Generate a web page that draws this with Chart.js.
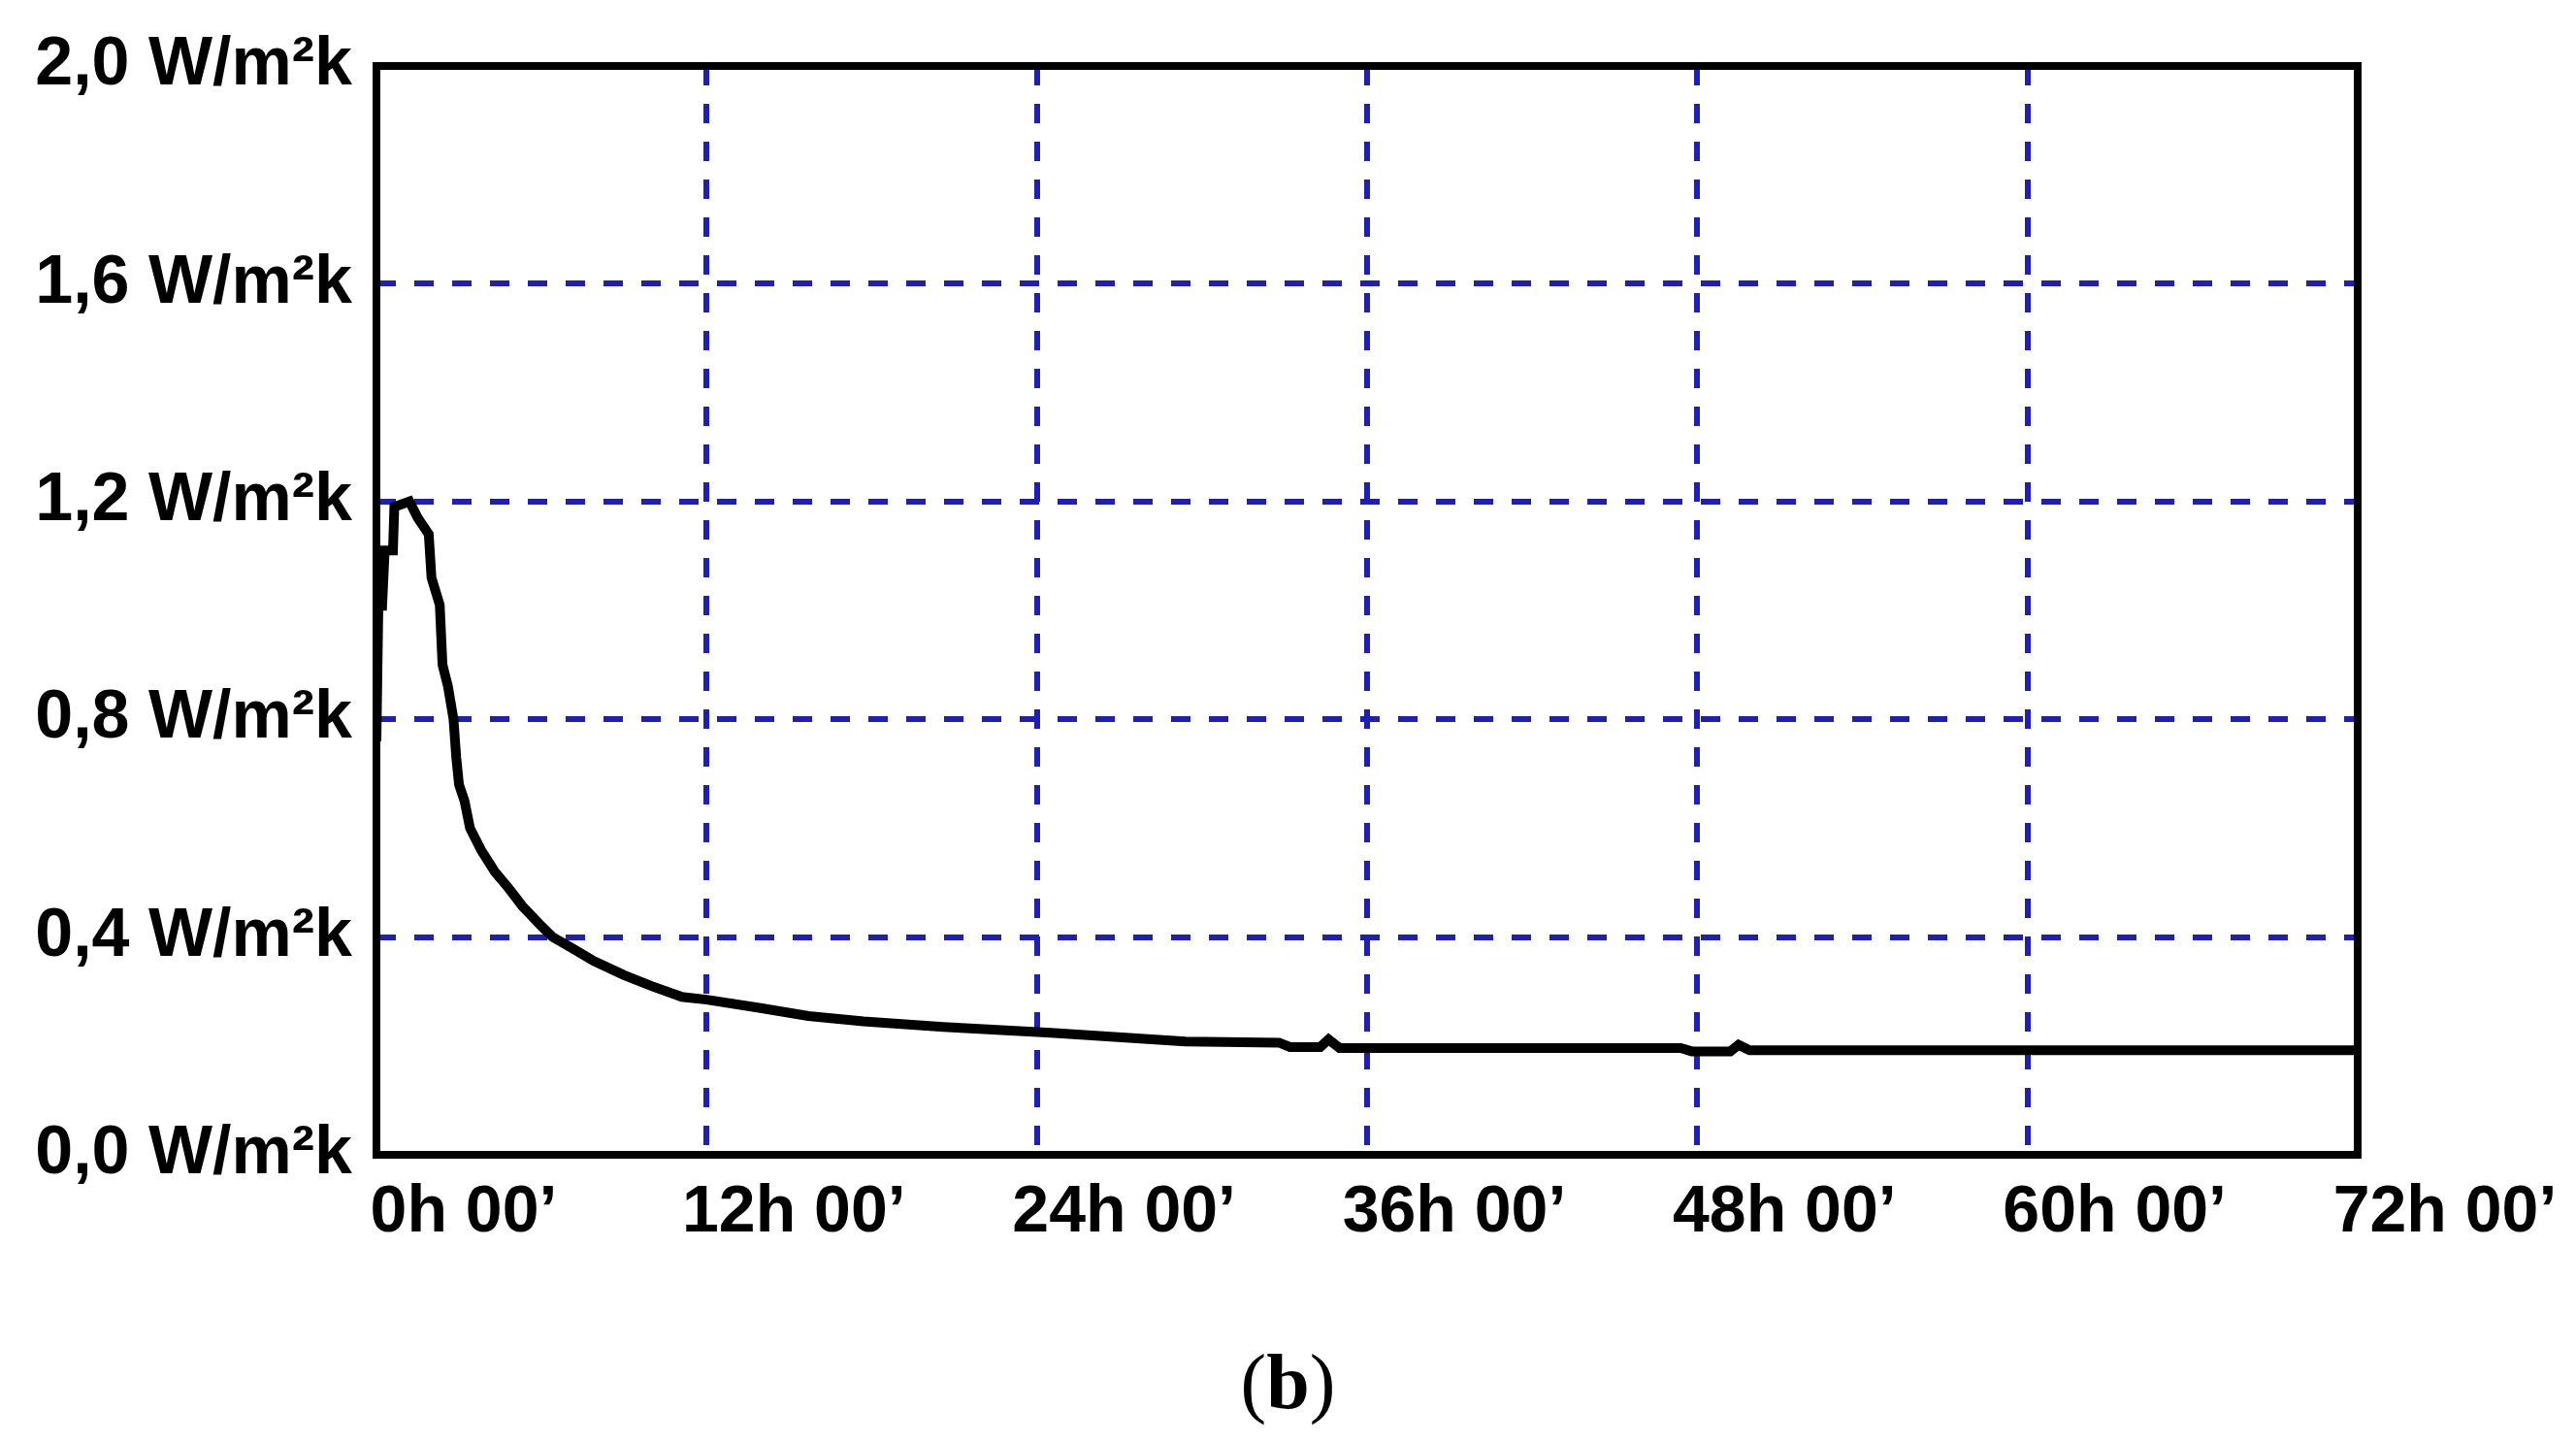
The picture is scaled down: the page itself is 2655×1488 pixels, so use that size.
<!DOCTYPE html>
<html>
<head>
<meta charset="utf-8">
<title>U value over 72 h</title>
<script src="https://cdn.jsdelivr.net/npm/chart.js@4.4.1/dist/chart.umd.min.js"></script>
<style>
  html, body { margin: 0; padding: 0; background: #fff; }
  #wrap { position: relative; width: 2655px; height: 1488px; }
  #caption {
    position: absolute; left: 0; top: 1384px; width: 2655px;
    text-align: center; color: #000;
    font-family: "Liberation Serif", "DejaVu Serif", serif;
    font-size: 80px; line-height: 1;
  }
</style>
</head>
<body>
<div id="wrap">
  <canvas id="uChart" width="2655" height="1488"></canvas>
  <div id="caption">(<b>b</b>)</div>
</div>
<script>
const hours = [0, 0.1, 0.2, 0.3, 0.6, 0.65, 1.2, 1.5, 1.9, 2.0, 2.3, 2.4, 2.6, 2.8, 2.9, 3.0,
  3.2, 3.4, 3.8, 4.3, 4.8, 5.3, 6.0, 6.4, 7.1, 7.9, 9.0, 10.0, 11.1, 12.0, 13.9, 15.7, 17.7,
  20.6, 24.5, 29.4, 32.8, 33.2, 34.3, 34.6, 35.0, 47.4, 47.8, 49.2, 49.5, 49.9, 72];
const uValues = [0.76, 1.11, 1.0, 1.11, 1.11, 1.19, 1.2, 1.17, 1.14, 1.06, 1.01, 0.90, 0.86, 0.80, 0.73, 0.68,
  0.65, 0.60, 0.56, 0.52, 0.49, 0.457, 0.42, 0.40, 0.38, 0.356, 0.33, 0.31, 0.29, 0.285, 0.27, 0.255, 0.245,
  0.235, 0.224, 0.208, 0.206, 0.198, 0.198, 0.212, 0.196, 0.196, 0.19, 0.19, 0.202, 0.192, 0.192];

// Axis ticks
const xTickValues = [0, 12, 24, 36, 48, 60, 72];
const xTickLabels = ['0h 00’', '12h 00’', '24h 00’', '36h 00’', '48h 00’', '60h 00’', '72h 00’'];
const yTickValues = [0, 0.4, 0.8, 1.2, 1.6, 2.0];
const yTickLabels = ['0,0 W/m²k', '0,4 W/m²k', '0,8 W/m²k', '1,2 W/m²k', '1,6 W/m²k', '2,0 W/m²k'];

const gridBlue = 'rgb(30, 30, 185)';
const labelFont = '"Liberation Sans", Arial, "DejaVu Sans", sans-serif';

// black box around the plot area
const framePlugin = {
  id: 'frame',
  afterDatasetsDraw(chart) {
    const { ctx, chartArea: a } = chart;
    ctx.save();
    ctx.strokeStyle = '#000';
    ctx.lineWidth = 8;
    ctx.strokeRect(a.left, a.top, a.right - a.left, a.bottom - a.top);
    ctx.restore();
  }
};

const ctx = document.getElementById('uChart');
new Chart(ctx, {
  type: 'line',
  data: {
    datasets: [{
      label: 'U',
      data: hours.map((h, i) => ({ x: h, y: uValues[i] })),
      borderColor: '#000',
      borderWidth: 10,
      pointRadius: 0,
      tension: 0,
      fill: false
    }]
  },
  options: {
    responsive: false,
    animation: false,
    devicePixelRatio: 1,
    layout: { padding: { top: 68, right: 225, bottom: 0, left: 0 } },
    plugins: {
      legend: { display: false },
      tooltip: { enabled: false }
    },
    scales: {
      x: {
        type: 'linear',
        min: 0,
        max: 72,
        afterBuildTicks: (scale) => { scale.ticks = xTickValues.map(v => ({ value: v })); },
        afterFit: (scale) => { scale.height = 298; },
        grid: { color: gridBlue, lineWidth: 6, drawTicks: false },
        border: { display: false, dash: [20, 19] },
        ticks: {
          autoSkip: false,
          maxRotation: 0,
          padding: 19,
          labelOffset: 90,
          color: '#000',
          font: { family: labelFont, size: 68, weight: 'bold' },
          callback: (v, i) => xTickLabels[i]
        }
      },
      y: {
        min: 0,
        max: 2,
        afterBuildTicks: (scale) => { scale.ticks = yTickValues.map(v => ({ value: v })); },
        afterFit: (scale) => { scale.width = 388; },
        grid: { color: gridBlue, lineWidth: 6, drawTicks: false },
        border: { display: false, dash: [20, 19] },
        ticks: {
          padding: 25,
          color: '#000',
          font: { family: labelFont, size: 70, weight: 'bold' },
          callback: (v, i) => yTickLabels[i]
        }
      }
    }
  },
  plugins: [framePlugin]
});
</script>
</body>
</html>
